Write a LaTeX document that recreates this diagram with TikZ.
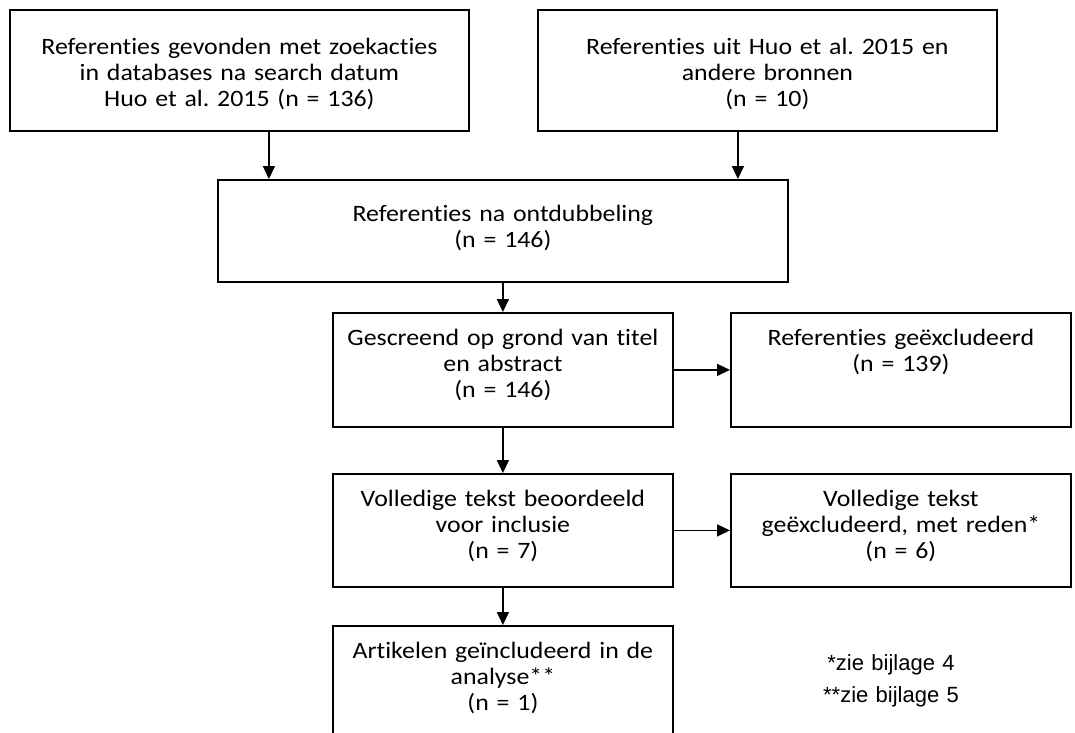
\documentclass[tikz,border=0pt]{standalone}
\usepackage{fontspec}
\setmainfont{Carlito}[Ligatures=NoCommon, FakeStretch=1.1]
\newfontfamily\notefont{Liberation Sans}
\usetikzlibrary{positioning,calc,arrows.meta}
\newcommand{\flowfont}{\frenchspacing\fontsize{23.5}{25.7}\selectfont}
\tikzstyle{block} = [draw, rectangle, line width=1.8pt, inner sep=0pt, align=center, font=\flowfont]
\tikzstyle{wide} = [text width=459pt, text height=45pt, text depth=76pt]
\tikzstyle{side} = [text width=340pt]
\tikzstyle{note} = [inner sep=0pt, text width=160pt, align=center, font=\notefont\fontsize{22}{32}\selectfont]

\begin{document}
\begin{tikzpicture}[x=1pt, y=-1pt, >={Triangle[length=13pt,width=12pt]}, line width=1.5pt]
    \useasboundingbox (0,0) rectangle (1075,732);
    % Boxes
    \node [block, wide, anchor=north west] (found) at (9,9) {Referenties gevonden met zoekacties\\in databases na search datum\\Huo et al. 2015 (n = 136)};
    \node [block, wide, anchor=north west] (other) at (537,9) {Referenties uit Huo et al. 2015 en\\andere bronnen\\(n = 10)};
    \node [block, text width=570pt, text height=42pt, text depth=60pt, anchor=north west] (dedup) at (217,179) {Referenties na ontdubbeling\\(n = 146)};
    \node [block, side, text height=33pt, text depth=81pt, anchor=north west] (screen) at (332,312) {Gescreend op grond van titel\\en abstract\\(n = 146)};
    \node [block, side, text height=33pt, text depth=81pt, anchor=north west] (excl) at (730,312) {Referenties geëxcludeerd\\(n = 139)};
    \node [block, side, text height=33pt, text depth=80pt, anchor=north west] (fulltext) at (332,473) {Volledige tekst beoordeeld\\voor inclusie\\(n = 7)};
    \node [block, side, text height=33pt, text depth=80pt, anchor=north west] (fullexcl) at (730,473) {Volledige tekst\\geëxcludeerd, met reden*\\(n = 6)};
    \node [block, side, text height=33pt, text depth=82pt, anchor=north west] (incl) at (332,625) {Artikelen geïncludeerd in de\\analyse**\\(n = 1)};
    \node [note, anchor=base] (notes) at (891,670) {*zie bijlage 4\\{}**zie bijlage 5};

    % Connections
    \draw [->] ([xshift=29.5pt]found.south) -- ([xshift=29.5pt]found.south |- dedup.north);
    \draw [->] ([xshift=-29.5pt]other.south) -- ([xshift=-29.5pt]other.south |- dedup.north);
    \draw [->] (dedup) -- (screen);
    \draw [->] (screen) -- (excl);
    \draw [->] (screen) -- (fulltext);
    \draw [->] (fulltext) -- (fullexcl);
    \draw [->] (fulltext) -- (incl);
\end{tikzpicture}
\end{document}
